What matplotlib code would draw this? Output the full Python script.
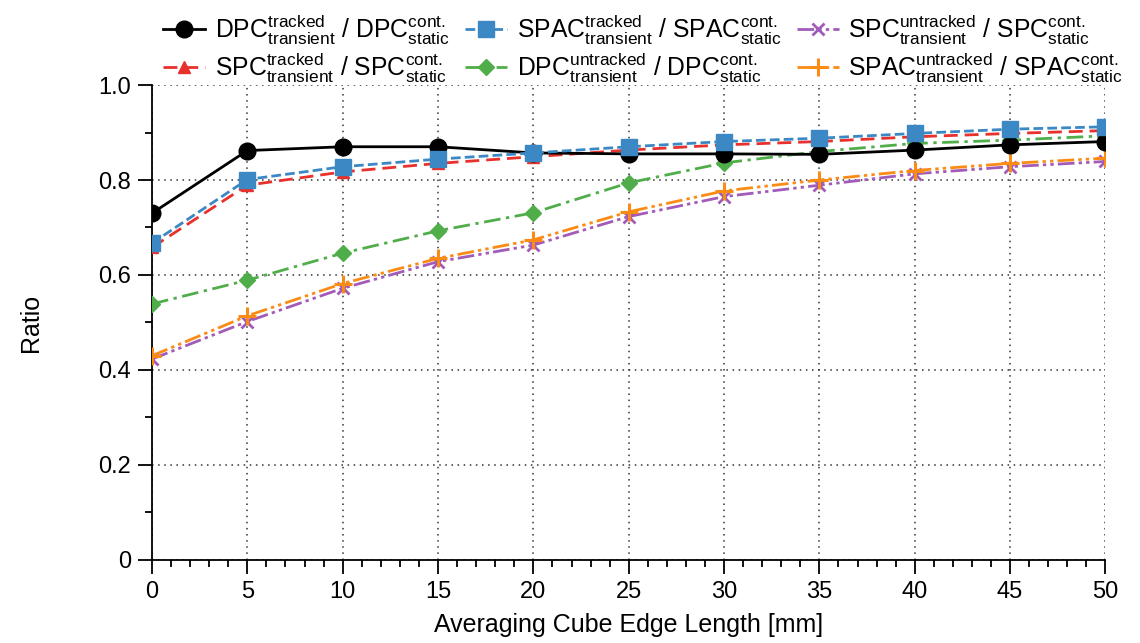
import matplotlib
matplotlib.use("Agg")
import matplotlib.pyplot as plt
from matplotlib.ticker import MultipleLocator, FixedLocator

plt.rcParams['font.family'] = ['Liberation Sans', 'DejaVu Sans']
plt.rcParams['mathtext.fontset'] = 'custom'
plt.rcParams['mathtext.rm'] = 'Liberation Sans'
plt.rcParams['mathtext.it'] = 'Liberation Sans:italic'
plt.rcParams['mathtext.bf'] = 'Liberation Sans:bold'

# Cube edge lengths [mm]
edge_mm = [0, 5, 10, 15, 20, 25, 30, 35, 40, 45, 50]

dpc_tracked = [0.730, 0.862, 0.870, 0.870, 0.857, 0.855, 0.855, 0.854, 0.863, 0.874, 0.881]
spc_tracked = [0.658, 0.789, 0.817, 0.835, 0.849, 0.863, 0.874, 0.881, 0.891, 0.898, 0.904]
spac_tracked = [0.667, 0.801, 0.828, 0.844, 0.857, 0.870, 0.881, 0.888, 0.898, 0.907, 0.912]
dpc_untracked = [0.539, 0.589, 0.646, 0.693, 0.731, 0.794, 0.836, 0.860, 0.877, 0.884, 0.893]
spc_untracked = [0.423, 0.502, 0.572, 0.628, 0.663, 0.723, 0.765, 0.789, 0.813, 0.828, 0.839]
spac_untracked = [0.430, 0.514, 0.582, 0.635, 0.674, 0.733, 0.777, 0.800, 0.820, 0.835, 0.846]

y_ticks = [0, 0.2, 0.4, 0.6, 0.8, 1.0]
y_tick_labels = ["0", "0.2", "0.4", "0.6", "0.8", "1.0"]
x_ticks = [0, 5, 10, 15, 20, 25, 30, 35, 40, 45, 50]


def ratio_label(name, kind):
    return (name + r"$^{\mathrm{" + kind + r"}}_{\mathrm{transient}}$ / "
            + name + r"$^{\mathrm{cont.}}_{\mathrm{static}}$")


fig = plt.figure(figsize=(11.4, 6.43), dpi=100)
ax = fig.add_axes([0.1333, 0.1291, 0.8364, 0.7387])

lw = 2.0
h_dpc, = ax.plot(edge_mm, dpc_tracked, color='black', lw=lw, ls='-',
                 marker='o', ms=12, label=ratio_label('DPC', 'tracked'), zorder=5)
h_spc, = ax.plot(edge_mm, spc_tracked, color='#e8302c', lw=lw, ls=(0, (5, 2.5)),
                 marker='^', ms=8, label=ratio_label('SPC', 'tracked'), zorder=4)
h_spac, = ax.plot(edge_mm, spac_tracked, color='#3b88c4', lw=lw, ls=(0, (3.5, 1.5)),
                  marker='s', ms=11.5, label=ratio_label('SPAC', 'tracked'), zorder=6)
h_dpcu, = ax.plot(edge_mm, dpc_untracked, color='#4fae4a', lw=lw, ls=(0, (6, 2, 1.2, 2)),
                  marker='D', ms=8.5, label=ratio_label('DPC', 'untracked'), zorder=4)
h_spcu, = ax.plot(edge_mm, spc_untracked, color='#a25bb8', lw=lw,
                  ls=(0, (6, 1.5, 1.2, 1.5, 1.2, 1.5)),
                  marker='x', ms=9, mew=2, label=ratio_label('SPC', 'untracked'), zorder=3)
h_spacu, = ax.plot(edge_mm, spac_untracked, color='#fa8c16', lw=lw,
                   ls=(0, (6, 1.5, 1.2, 1.5, 1.2, 1.5)),
                   marker='+', ms=13, mew=2.2, label=ratio_label('SPAC', 'untracked'), zorder=3)

ax.set_xlim(0, 50)
ax.set_ylim(0, 1.0)
ax.xaxis.set_major_locator(FixedLocator(x_ticks))
ax.xaxis.set_minor_locator(MultipleLocator(1))
ax.yaxis.set_major_locator(FixedLocator(y_ticks))
ax.set_yticklabels(y_tick_labels)
ax.yaxis.set_minor_locator(MultipleLocator(0.1))

ax.tick_params(which='major', direction='out', length=10, width=1.3, labelsize=17, pad=5)
ax.tick_params(which='minor', direction='out', length=5, width=1.3)

for side in ('top', 'right'):
    ax.spines[side].set_visible(False)
for side in ('left', 'bottom'):
    ax.spines[side].set_linewidth(1.3)

ax.grid(True, which='major', color='#333333', ls=(0, (1, 3)), lw=1.1)
ax.set_axisbelow(True)

ax.set_xlabel('Averaging Cube Edge Length [mm]', fontsize=18, labelpad=7)
ax.set_ylabel('Ratio', fontsize=18, labelpad=40)

handles = [h_dpc, h_spc, h_spac, h_dpcu, h_spcu, h_spacu]
fig.legend(handles=handles, labels=[h.get_label() for h in handles],
           loc='upper left', bbox_to_anchor=(0.128, 1.007), ncol=3, frameon=False,
           fontsize=17.8, handlelength=1.7, handletextpad=0.4, columnspacing=0.6,
           labelspacing=0.15, borderpad=0.2)

fig.savefig('out.png', dpi=100)
